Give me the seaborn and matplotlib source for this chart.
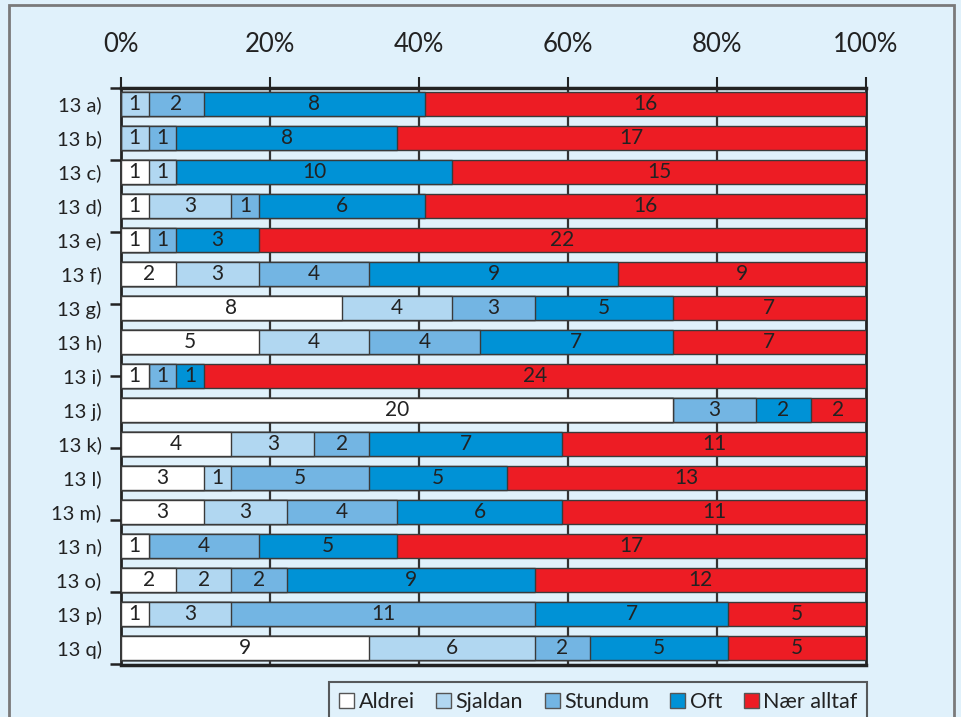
import numpy as np
import pandas as pd
import matplotlib
matplotlib.use("Agg")
import matplotlib.pyplot as plt
import seaborn as sns
from matplotlib.patches import Rectangle, Patch

# Survey items and answer categories
items = ["13 a)", "13 b)", "13 c)", "13 d)", "13 e)", "13 f)", "13 g)", "13 h)",
         "13 i)", "13 j)", "13 k)", "13 l)", "13 m)", "13 n)", "13 o)", "13 p)", "13 q)"]
answers = ["Aldrei", "Sjaldan", "Stundum", "Oft", "Nær alltaf"]

# Number of respondents per answer (27 per item)
aldrei     = [0, 0, 1, 1, 1, 2, 8, 5, 1, 20, 4, 3, 3, 1, 2, 1, 9]
sjaldan    = [1, 1, 1, 3, 0, 3, 4, 4, 0, 0, 3, 1, 3, 0, 2, 3, 6]
stundum    = [2, 1, 0, 1, 1, 4, 3, 4, 1, 3, 2, 5, 4, 4, 2, 11, 2]
oft        = [8, 8, 10, 6, 3, 9, 5, 7, 1, 2, 7, 5, 6, 5, 9, 7, 5]
naer_alltaf = [16, 17, 15, 16, 22, 9, 7, 7, 24, 2, 11, 13, 11, 17, 12, 5, 5]

colors = ["#ffffff", "#b1d7f1", "#73b5e3", "#0092d6", "#ed1c24"]
bg = "#e0f1fb"
edge = "#3a3a3a"

counts = pd.DataFrame({"Aldrei": aldrei, "Sjaldan": sjaldan, "Stundum": stundum,
                       "Oft": oft, "Nær alltaf": naer_alltaf}, index=items)
pct = counts.div(counts.sum(axis=1), axis=0) * 100
cum = pct.cumsum(axis=1)
start = cum - pct

sns.set_style("white")
plt.rcParams["font.family"] = ["Lato", "DejaVu Sans"]

fig = plt.figure(figsize=(9.61, 7.17), dpi=100, facecolor=bg)
ax = fig.add_axes([121 / 961, 1 - 664.5 / 717, (866 - 121) / 961, (664.5 - 88) / 717])
ax.set_facecolor(bg)

# Stacked bars: draw cumulative totals from the longest down so each segment shows
for ans, col in reversed(list(zip(answers, colors))):
    df = pd.DataFrame({"item": items, "value": cum[ans].values})
    sns.barplot(data=df, y="item", x="value", orient="h", color=col, saturation=1,
                width=0.7, edgecolor=edge, linewidth=1.0, ax=ax, zorder=3)

# Segment labels
for i, item in enumerate(items):
    for ans in answers:
        n = counts.loc[item, ans]
        if n > 0:
            xc = start.loc[item, ans] + pct.loc[item, ans] / 2
            ax.text(xc, i, str(n), ha="center", va="center", fontsize=15,
                    color="#222222", zorder=5)

ax.set_xlim(0, 100)
ax.set_ylim(16.48, -0.47)
ax.set_xlabel("")
ax.set_ylabel("")

# Top percentage axis
ax.xaxis.tick_top()
ax.set_xticks([0, 20, 40, 60, 80, 100])
ax.set_xticklabels([f"{v}%" for v in [0, 20, 40, 60, 80, 100]])
ax.tick_params(axis="x", which="major", direction="out", length=8, width=1.5,
               color="#222222", pad=14, labelsize=18.5, labelcolor="#222222")

# Vertical grid behind the bars
for v in [20, 40, 60, 80]:
    ax.axvline(v, color="#333333", lw=1.6, zorder=1)

# Row labels and left tick marks
ax.set_yticks(range(len(items)))
ax.set_yticklabels(items)
ax.tick_params(axis="y", which="major", length=0, pad=14, labelsize=14.5,
               labelcolor="#222222")
ax.set_yticks(np.linspace(-0.47, 16.48, 9), minor=True)
ax.tick_params(axis="y", which="minor", direction="out", length=8, width=1.8,
               color="#222222", left=True)

for s in ["top", "bottom"]:
    ax.spines[s].set_visible(True)
    ax.spines[s].set_linewidth(2.5)
    ax.spines[s].set_color("#222222")
for s in ["left", "right"]:
    ax.spines[s].set_visible(True)
    ax.spines[s].set_linewidth(2.0)
    ax.spines[s].set_color("#222222")

# Outer frame
fig.patches.append(Rectangle((9 / 961, -0.05), 945 / 961, 1.05 - 5 / 717,
                             transform=fig.transFigure, fill=False,
                             edgecolor="#7a7a7a", lw=2, zorder=0))

handles = [Patch(facecolor=c, edgecolor="#555555", lw=1) for c in colors]
leg = fig.legend(handles, answers, loc="upper right",
                 bbox_to_anchor=(867 / 961, 1 - 682 / 717), ncol=5,
                 frameon=True, fancybox=False, fontsize=15.5, handlelength=0.7,
                 handleheight=0.7, handletextpad=0.2, columnspacing=1.0,
                 borderpad=0.45, borderaxespad=0)
leg.get_frame().set_edgecolor("#333333")
leg.get_frame().set_facecolor(bg)
leg.get_frame().set_linewidth(1.5)
for t in leg.get_texts():
    t.set_color("#222222")

fig.savefig("out.png", dpi=100, facecolor=bg)
